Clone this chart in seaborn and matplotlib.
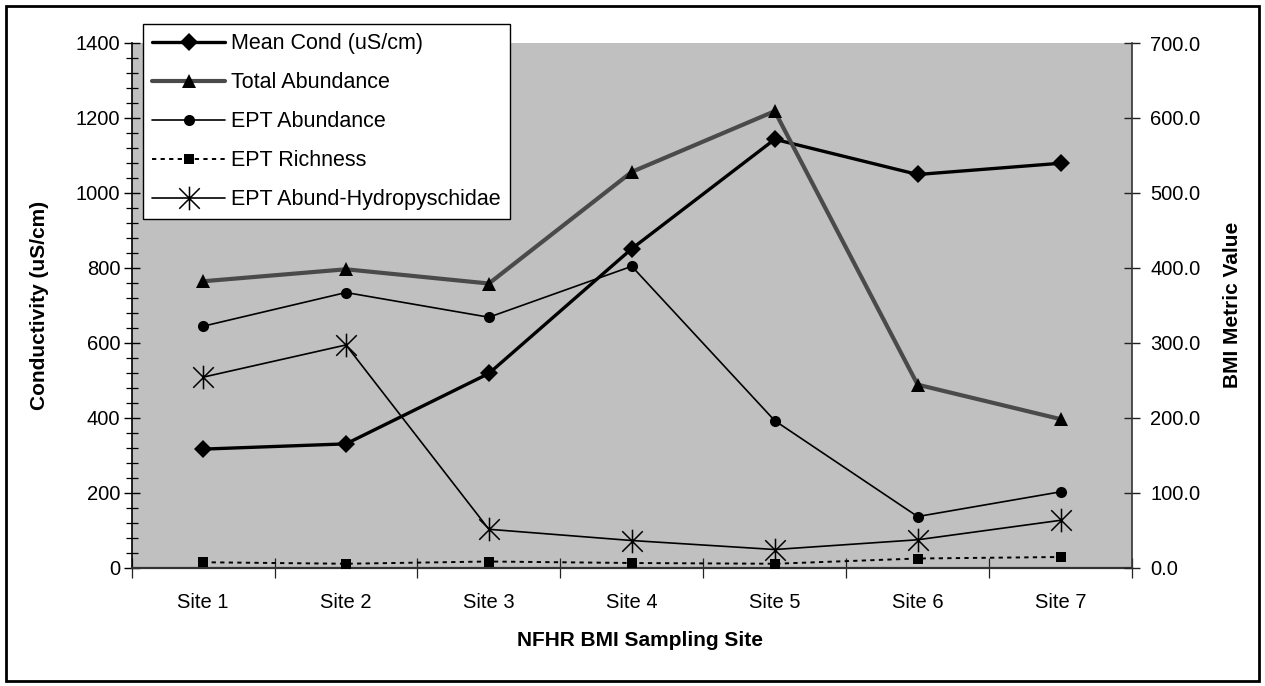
import numpy as np
import pandas as pd
import seaborn as sns
import matplotlib
matplotlib.use("Agg")
import matplotlib.pyplot as plt
from matplotlib.path import Path
from matplotlib.patches import Rectangle
from matplotlib.ticker import MultipleLocator, FormatStrFormatter, FixedLocator

# ---- data -------------------------------------------------------------
sites = ["Site 1", "Site 2", "Site 3", "Site 4", "Site 5", "Site 6", "Site 7"]
mean_cond = [316, 330, 518, 851, 1143, 1049, 1079]          # uS/cm (left axis)
total_abundance = [382, 398, 379, 528, 609, 244, 198]       # right axis
ept_abundance = [322, 367, 334, 402, 196, 68, 101]          # right axis
ept_richness = [7, 5, 8, 6, 5, 12, 14]                      # right axis
ept_abund_hydro = [254, 297, 51, 36, 24, 37, 63]            # right axis

df = pd.DataFrame({
    "pos": np.arange(len(sites)),
    "site": sites,
    "mean_cond": mean_cond,
    "total_abundance": total_abundance,
    "ept_abundance": ept_abundance,
    "ept_richness": ept_richness,
    "ept_abund_hydro": ept_abund_hydro,
})

# ---- style ------------------------------------------------------------
sns.set_theme(style="white")
plt.rcParams["font.family"] = ["Liberation Sans", "DejaVu Sans"]
plt.rcParams["text.color"] = "black"
plt.rcParams["axes.labelcolor"] = "black"
plt.rcParams["xtick.color"] = "black"
plt.rcParams["ytick.color"] = "black"

# asterisk marker: X plus a vertical stroke
star_path = Path(
    [(-1, -1), (1, 1), (-1, 1), (1, -1), (0, -1.15), (0, 1.15)],
    [Path.MOVETO, Path.LINETO, Path.MOVETO, Path.LINETO, Path.MOVETO, Path.LINETO],
)

fig = plt.figure(figsize=(12.65, 6.86), dpi=100)
W, H = 1265, 686
x0, x1, y0, y1 = 131.6, 1132.0, 43.0, 567.5
ax = fig.add_axes([x0 / W, 1 - y1 / H, (x1 - x0) / W, (y1 - y0) / H])
ax.set_facecolor("#c0c0c0")
ax2 = ax.twinx()

# left axis: conductivity
sns.lineplot(data=df, x="pos", y="mean_cond", ax=ax, color="black", lw=2.4,
             marker="D", markersize=9.5, markeredgewidth=0, label="Mean Cond (uS/cm)",
             legend=False)

# right axis: BMI metrics
sns.lineplot(data=df, x="pos", y="total_abundance", ax=ax2, color="#4a4a4a", lw=3.0,
             marker="^", markersize=9.5, markerfacecolor="black", markeredgewidth=0,
             label="Total Abundance", legend=False)
sns.lineplot(data=df, x="pos", y="ept_abundance", ax=ax2, color="black", lw=1.2,
             marker="o", markersize=8, markeredgewidth=0, label="EPT Abundance",
             legend=False)
sns.lineplot(data=df, x="pos", y="ept_richness", ax=ax2, color="black", lw=1.4,
             linestyle=(0, (2.2, 2.2)), marker="s", markersize=7, markeredgewidth=0,
             label="EPT Richness", legend=False)
sns.lineplot(data=df, x="pos", y="ept_abund_hydro", ax=ax2, color="black", lw=1.2,
             marker=star_path, markersize=17, markeredgewidth=1.1,
             markerfacecolor="none", markeredgecolor="black",
             label="EPT Abund-Hydropyschidae", legend=False)

# ---- axes -------------------------------------------------------------
n = len(sites)
ax.set_xlim(-0.5, n - 0.5)
ax.set_ylim(0, 1400)
ax2.set_ylim(0, 700)

ax.yaxis.set_major_locator(MultipleLocator(200))
ax.yaxis.set_minor_locator(MultipleLocator(40))
ax2.yaxis.set_major_locator(MultipleLocator(100))
ax2.yaxis.set_major_formatter(FormatStrFormatter("%.1f"))

# category labels at centres, tick marks on the boundaries
ax.xaxis.set_major_locator(FixedLocator(np.arange(n)))
ax.set_xticklabels(sites)
ax.xaxis.set_minor_locator(FixedLocator(np.arange(n + 1) - 0.5))

ax.tick_params(axis="x", which="major", length=0, pad=18, labelsize=14.5, colors="black")
ax.tick_params(axis="x", which="minor", length=14, width=0.9, direction="inout",
               bottom=True, color="#222222")
ax.tick_params(axis="y", which="major", length=12, width=1.0, direction="inout",
               left=True, labelsize=14.5, pad=2, color="black", labelcolor="black")
ax.tick_params(axis="y", which="minor", length=8, width=0.9, direction="inout",
               left=True, color="black")
ax2.tick_params(axis="y", which="major", length=12, width=1.0, direction="inout",
                right=True, labelsize=14.5, pad=7, color="#222222", labelcolor="black")

for a in (ax, ax2):
    a.spines["top"].set_visible(False)
ax.spines["left"].set_color("black")
ax.spines["left"].set_linewidth(1.2)
ax.spines["bottom"].set_color("#333333")
ax.spines["bottom"].set_linewidth(1.6)
ax.spines["right"].set_visible(False)
ax2.spines["left"].set_visible(False)
ax2.spines["bottom"].set_visible(False)
ax2.spines["right"].set_color("#333333")
ax2.spines["right"].set_linewidth(1.2)

ax.set_xlabel("NFHR BMI Sampling Site", fontsize=15, fontweight="bold")
ax.set_ylabel("Conductivity (uS/cm)", fontsize=15, fontweight="bold")
ax2.set_ylabel("BMI Metric Value", fontsize=15, fontweight="bold", rotation=90)
ax.xaxis.set_label_coords((640 - x0) / (x1 - x0), -(641 - y1) / (y1 - y0))
ax.xaxis.label.set_va("center")
ax.yaxis.set_label_coords((40 - x0) / (x1 - x0), 0.5)
ax.yaxis.label.set_va("center")
ax2.yaxis.set_label_coords((1232 - x0) / (x1 - x0), 0.5)
ax2.yaxis.label.set_va("center")
ax2.yaxis.label.set_rotation(90)

# ---- legend -----------------------------------------------------------
handles = ax.get_lines()[:1] + ax2.get_lines()[:4]
labels = [h.get_label() for h in handles]
leg = fig.legend(handles, labels, loc="upper left",
                 bbox_to_anchor=(143 / W, 1 - 24 / H), bbox_transform=fig.transFigure,
                 frameon=True, fancybox=False, shadow=False, fontsize=15.5,
                 handlelength=3.4, handletextpad=0.28, labelspacing=0.84,
                 borderpad=0.42, borderaxespad=0)
leg.get_frame().set_edgecolor("black")
leg.get_frame().set_linewidth(1.0)
leg.get_frame().set_facecolor("white")
leg.get_frame().set_alpha(1)

# outer chart border
fig.patches.append(Rectangle((5.5 / W, 5.5 / H), (1259 - 5.5) / W, (680 - 5.5) / H,
                             transform=fig.transFigure, fill=False,
                             edgecolor="black", linewidth=2.0))

fig.savefig("out.png", dpi=100, facecolor="white")
